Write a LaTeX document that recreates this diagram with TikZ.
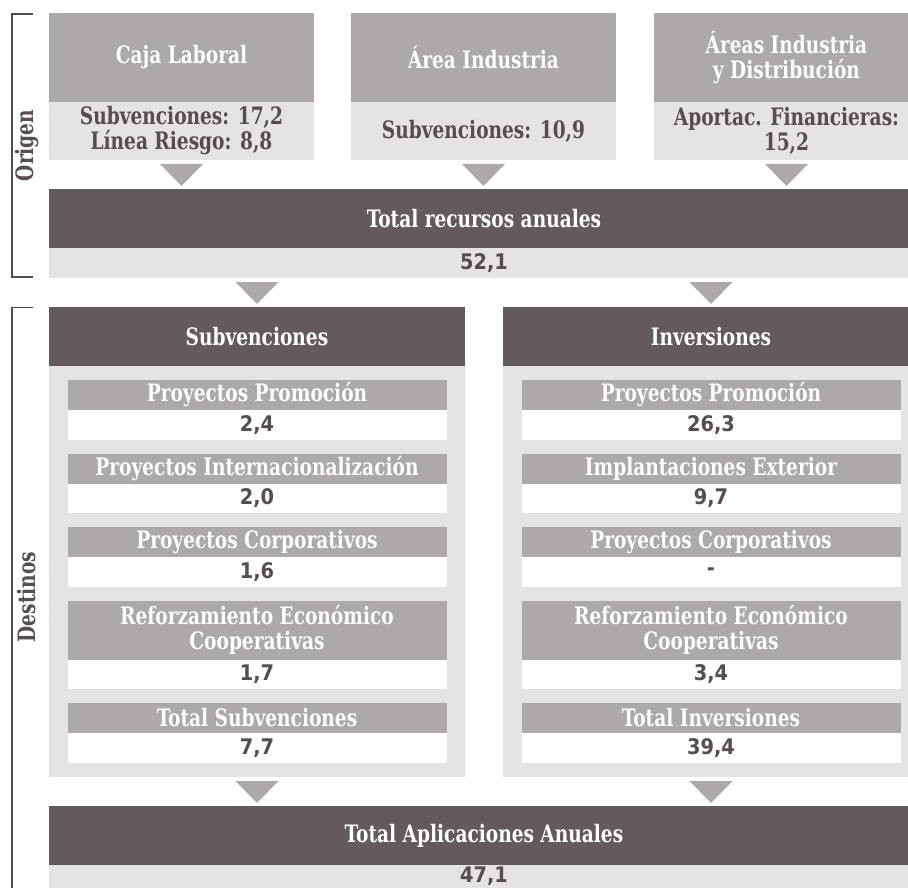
\documentclass[tikz,border=0pt]{standalone}
\usepackage{fontspec}
\usetikzlibrary{positioning,calc}

\newfontfamily\slabfont{DejaVu Serif Condensed}[BoldFont={DejaVu Serif Condensed Bold}, FakeStretch=0.86]
\newfontfamily\numfont{DejaVu Sans Condensed}[BoldFont={DejaVu Sans Condensed Bold}]

\definecolor{darkband}{HTML}{625A5F}
\definecolor{midgrey}{HTML}{ADA8A9}
\definecolor{lightgrey}{HTML}{E6E3E4}
\definecolor{textgrey}{HTML}{564C51}
\definecolor{bracketgrey}{HTML}{4F4F4F}

\newcommand\headfont{\slabfont\bfseries\fontsize{24}{25}\selectfont}
\newcommand\valfont{\numfont\bfseries\fontsize{21.5}{25}\selectfont}

\newcommand\downtri[3]{%
  \fill[tri] ($(#1 |- #2.south)+(-21.5,4)$) -- ++(43,0) -- ($(#1 |- #3.north)+(0,-3)$) -- cycle;}

\tikzset{
  every node/.style={inner sep=0pt, outer sep=0pt, align=center},
  srchead/.style={fill=midgrey, text=white, minimum width=265pt, minimum height=89pt, font=\headfont},
  srcval/.style={fill=lightgrey, text=textgrey, minimum width=265pt, minimum height=58pt, font=\headfont},
  band/.style={fill=darkband, text=white, minimum width=870pt, minimum height=59pt, font=\headfont},
  bandval/.style={fill=lightgrey, text=textgrey, minimum width=870pt, minimum height=30pt, font=\valfont},
  panelhead/.style={fill=darkband, text=white, minimum width=416pt, minimum height=59pt, font=\headfont},
  panel/.style={fill=lightgrey, minimum width=416pt, minimum height=411pt},
  itemhead/.style={fill=midgrey, text=white, minimum width=379pt, minimum height=30pt, font=\headfont},
  itemval/.style={fill=white, text=textgrey, minimum width=379pt, minimum height=29.5pt, font=\valfont},
  tri/.style={fill=midgrey},
  bracket/.style={draw=bracketgrey, line width=1.3pt},
  sidelabel/.style={rotate=90, text=textgrey, font=\headfont}
}

\begin{document}
\begin{tikzpicture}[x=1pt,y=-1pt]
  \useasboundingbox (0,0) rectangle (908,888);
  \clip (0,0) rectangle (908,888);

  % origen
  \node[srchead] (caja) at (181.5,57.5) {Caja Laboral};
  \node[srcval, below=0pt of caja] (cajaval) {Subvenciones: 17,2\\Línea Riesgo: 8,8};

  \node[srchead] (area) at (483.5,57.5) {Área Industria};
  \node[srcval, below=0pt of area] (areaval) {Subvenciones: 10,9};

  \node[srchead] (areas) at (786.5,57.5) {Áreas Industria\\y Distribución};
  \node[srcval, below=0pt of areas] (areasval) {Aportac. Financieras:\\15,2};

  \node[band] (recursos) at (484,218.5) {Total recursos anuales};
  \node[bandval, below=0pt of recursos] (recursosval) {52,1};

  \downtri{cajaval}{cajaval}{recursos}
  \downtri{areaval}{areaval}{recursos}
  \downtri{areasval}{areasval}{recursos}

  % destinos
  \node[panelhead] (subv) at (257,336.5) {Subvenciones};
  \node[panel, below=0pt of subv] (subvpanel) {};
  \node[itemhead, below=14pt of subv] (subvA) {Proyectos Promoción};
  \node[itemval, below=0pt of subvA] (subvAval) {2,4};
  \node[itemhead, below=14pt of subvAval] (subvB) {Proyectos Internacionalización};
  \node[itemval, below=0pt of subvB] (subvBval) {2,0};
  \node[itemhead, below=14pt of subvBval] (subvC) {Proyectos Corporativos};
  \node[itemval, below=0pt of subvC] (subvCval) {1,6};
  \node[itemhead, minimum height=59pt, below=14pt of subvCval] (subvD) {Reforzamiento Económico\\Cooperativas};
  \node[itemval, below=0pt of subvD] (subvDval) {1,7};
  \node[itemhead, below=14pt of subvDval] (subvT) {Total Subvenciones};
  \node[itemval, below=0pt of subvT] (subvTval) {7,7};

  \node[panelhead] (inv) at (711,336.5) {Inversiones};
  \node[panel, below=0pt of inv] (invpanel) {};
  \node[itemhead, below=14pt of inv] (invA) {Proyectos Promoción};
  \node[itemval, below=0pt of invA] (invAval) {26,3};
  \node[itemhead, below=14pt of invAval] (invB) {Implantaciones Exterior};
  \node[itemval, below=0pt of invB] (invBval) {9,7};
  \node[itemhead, below=14pt of invBval] (invC) {Proyectos Corporativos};
  \node[itemval, below=0pt of invC] (invCval) {-};
  \node[itemhead, minimum height=59pt, below=14pt of invCval] (invD) {Reforzamiento Económico\\Cooperativas};
  \node[itemval, below=0pt of invD] (invDval) {3,4};
  \node[itemhead, below=14pt of invDval] (invT) {Total Inversiones};
  \node[itemval, below=0pt of invT] (invTval) {39,4};

  \downtri{subv}{recursosval}{subv}
  \downtri{inv}{recursosval}{inv}

  \node[band] (aplic) at (484,835.5) {Total Aplicaciones Anuales};
  \node[bandval, minimum height=23pt, below=0pt of aplic] (aplicval) {47,1};

  \downtri{subvpanel}{subvpanel}{aplic}
  \downtri{invpanel}{invpanel}{aplic}

  % corchetes
  \draw[bracket] (33,14) -- (12,14) -- (12,277) -- (33,277);
  \node[sidelabel] (origen) at (27,145.5) {Origen};
  \draw[bracket] (33,307.5) -- (12,307.5) -- (12,900);
  \node[sidelabel] (destinos) at (27,597) {Destinos};
\end{tikzpicture}
\end{document}
